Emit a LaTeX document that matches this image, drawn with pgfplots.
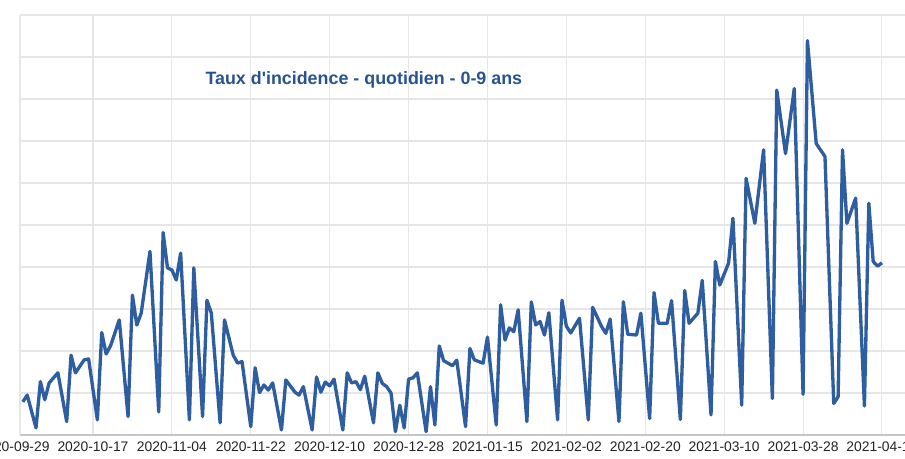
\documentclass[border=0pt]{standalone}
\usepackage{pgfplots}
\pgfplotsset{compat=1.18}
\usepackage{fontspec}
\setmainfont{Liberation Sans}
\definecolor{lineblue}{RGB}{46,94,160}
\definecolor{titleblue}{RGB}{40,82,145}
\definecolor{gridgray}{RGB}{230,230,230}
\definecolor{labgray}{RGB}{35,35,35}
\begin{document}
\begin{tikzpicture}
\begin{axis}[
  scale only axis,
  width=663.75pt, height=315pt,
  xmin=1.35, xmax=203.26,
  ymin=0, ymax=100,
  xtick={0,18,...,198},
  xticklabels={2020-09-29,2020-10-17,2020-11-04,2020-11-22,2020-12-10,2020-12-28,2021-01-15,2021-02-02,2021-02-20,2021-03-10,2021-03-28,2021-04-15},
  ytick={0,10,...,100},
  yticklabels={},
  major tick length=0pt,
  grid=major,
  grid style={draw=gridgray, line width=0.8pt},
  axis x line*=bottom, axis y line*=left,
  x axis line style={draw=gray!45, line width=1.6pt},
  y axis line style={draw=gridgray, line width=0.8pt},
  xticklabel style={font=\fontsize{10.4}{12}\selectfont, text=labgray, yshift=-1.5pt},
]
\addplot[lineblue, line width=2.5pt, line join=round, mark=none] coordinates {
(2,7.9) (3,9.5) (5,1.7) (6,12.7) (7,8.4) (8,12.4) (10,14.8) (12,3.2)
(13,19.0) (14,14.8) (16,17.9) (17,18.1) (19,3.6)
(20,24.4) (21,19.3) (22,21.2) (24,27.4) (26,4.4)
(27,33.3) (28,26.2) (29,29.0) (31,43.7) (33,5.5)
(34,48.2) (35,39.8) (36,39.3) (37,36.9) (38,43.3) (40,3.6)
(41,39.8) (43,4.4)
(44,32.1) (45,29.0) (47,2.9)
(48,27.4) (50,19.0) (51,17.1) (52,17.5) (54,2.0)
(55,16.0) (56,10.1) (57,11.9) (58,10.7) (59,12.4) (61,1.2)
(62,13.1) (64,10.3) (65,9.5) (66,11.5) (68,1.2)
(69,13.8) (70,10.2) (71,12.6) (72,11.7) (73,13.3) (75,1.2)
(76,14.8) (77,12.4) (78,12.7) (79,10.8) (80,14.0) (82,2.9)
(83,14.8) (84,12.3) (85,11.5) (86,10.0) (87,0.8)
(88,7.1) (89,1.7)
(90,13.3) (91,13.6) (92,14.8) (94,0.8)
(95,11.5) (96,2.4)
(97,21.2) (98,17.7) (100,16.5) (101,17.8) (103,2.0)
(104,20.6) (105,17.9) (107,17.1) (108,23.3) (110,2.4)
(111,31.0) (112,22.6) (113,25.5) (114,24.6) (115,29.8) (117,3.2)
(118,31.7) (119,26.2) (120,27.0) (121,23.8) (122,29.1) (124,3.6)
(125,32.1) (126,25.9) (127,24.3) (129,27.8) (131,3.6)
(132,30.4) (134,25.9) (135,24.2) (136,27.6) (138,3.2)
(139,31.7) (140,24.0) (142,23.8) (143,29.0) (145,3.9)
(146,33.9) (147,26.6) (149,26.6) (150,32.0) (152,3.7)
(153,34.4) (154,26.6) (156,29.0) (157,36.8) (159,4.8)
(160,41.3) (161,35.7) (163,40.9) (164,51.6) (166,7.1)
(167,61.1) (169,50.4) (171,67.9) (173,8.7)
(174,82.1) (176,67.0) (178,82.5) (180,9.7)
(181,93.9) (183,69.4) (185,66.3) (187,7.5) (188,9.1)
(189,67.9) (190,50.4) (192,56.4) (194,6.9)
(195,55.2) (196,41.3) (197,40.2) (198,41.0)
};
\coordinate (BL) at (rel axis cs:0,0);
\coordinate (TR) at (rel axis cs:1,1);
\coordinate (T0) at (axis cs:0,0);
\coordinate (TT) at (axis cs:79.8,84.5);
\end{axis}
\node[anchor=north, font=\fontsize{10.4}{12}\selectfont, text=labgray, yshift=-1.5pt] at (T0) {2020-09-29};
\node[font=\bfseries\fontsize{13.4}{15}\selectfont, text=titleblue] at (TT) {Taux d\textquotesingle incidence - quotidien - 0-9 ans};
\pgfresetboundingbox
\useasboundingbox ([xshift=-15pt,yshift=-18pt]BL) rectangle ([yshift=11.25pt]TR);
\end{tikzpicture}
\end{document}
